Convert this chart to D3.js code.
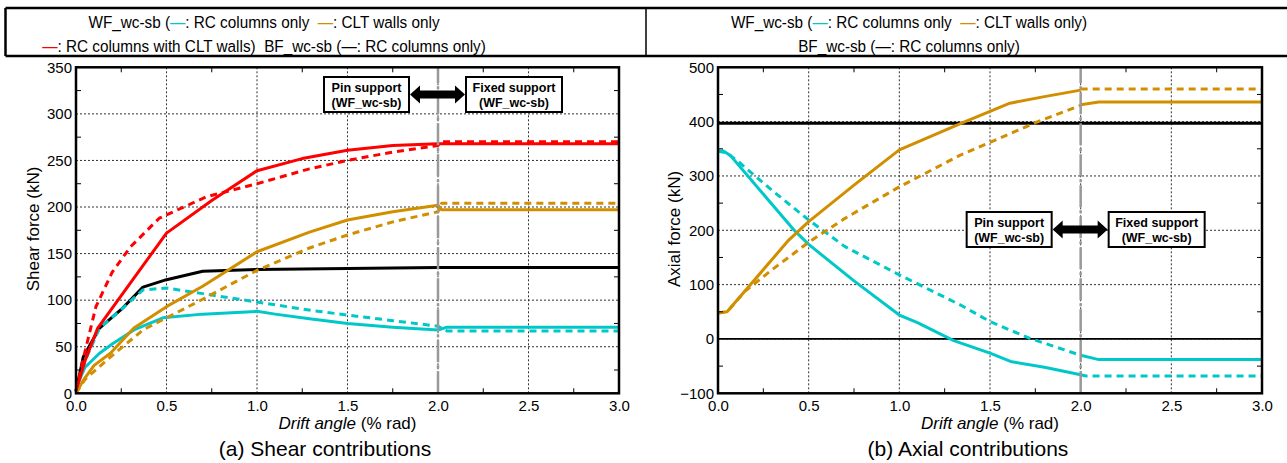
<!DOCTYPE html>
<html>
<head>
<meta charset="utf-8">
<script src="https://cdn.jsdelivr.net/npm/d3@7"></script>
<style>
  body { margin: 0; background: #fff; }
  text { font-family: "Liberation Sans", Arial, sans-serif; fill: #000; }
</style>
</head>
<body>
<div id="chart"></div>
<script>
// ---- data ----
var xTicks = [0, 0.5, 1.0, 1.5, 2.0, 2.5, 3.0];
var shearTicks = [0, 50, 100, 150, 200, 250, 300, 350];
var axialTicks = [-100, 0, 100, 200, 300, 400, 500];

// (a) shear contributions  [drift angle, kN]
var shearRedSolid = [[0,3],[0.05,35],[0.12,70],[0.5,172],[0.75,207],[1.0,239],[1.25,252],[1.5,261],[1.75,266],[2.0,268],[3.0,268]];
var shearRedDashed = [[0,3],[0.05,45],[0.11,93],[0.2,130],[0.3,157],[0.46,188],[0.72,211],[1.0,225],[1.29,241],[1.5,250],[1.75,259],[2.0,266],[2.02,270],[3.0,270]];
var shearBlack = [[0,2],[0.04,39],[0.13,70],[0.25,90],[0.37,114],[0.5,122],[0.7,131],[1.0,133],[1.5,134],[2.0,135],[3.0,135]];
var shearCyanSolid = [[0,2],[0.02,15],[0.05,28],[0.13,43],[0.2,53],[0.32,68],[0.48,81],[0.7,85],[1.0,88],[1.1,85],[1.29,80],[1.5,75],[1.75,71],[2.0,68],[2.05,71],[3.0,71]];
var shearCyanDashed = [[0,2],[0.05,35],[0.13,70],[0.25,90],[0.37,111],[0.5,113],[0.7,107],[1.0,98],[1.3,89],[1.5,84],[1.75,78],[2.0,72],[2.05,67],[3.0,67]];
var shearGoldSolid = [[0,0],[0.04,14],[0.1,30],[0.19,43],[0.32,70],[0.5,93],[0.7,115],[1.0,152],[1.29,173],[1.5,186],[1.75,195],[2.0,202],[2.02,197],[3.0,197]];
var shearGoldDashed = [[0,0],[0.05,15],[0.19,39],[0.37,68],[0.5,81],[0.7,101],[1.0,132],[1.29,156],[1.5,170],[1.75,184],[2.0,195],[2.02,204],[3.0,204]];

// (b) axial contributions, pin part (0-2.0) and fixed part (2.0-3.0)
var axialGoldSolidPin = [[0,48],[0.05,50],[0.39,182],[0.5,216],[0.75,283],[1.0,348],[1.34,397],[1.5,419],[1.61,434],[1.8,446],[2.0,458]];
var axialGoldDashedPin = [[0,48],[0.05,50],[0.15,88],[0.3,128],[0.5,178],[0.7,222],[1.0,280],[1.34,339],[1.5,362],[1.75,398],[2.0,430]];
var axialGoldSolidFixed = [[2.0,431],[2.1,436],[3.0,436]];
var axialGoldDashedFixed = [[2.0,460],[3.0,460]];
var axialCyanSolidPin = [[0,346],[0.03,346],[0.07,337],[0.2,286],[0.42,200],[0.5,174],[0.75,107],[1.0,44],[1.1,30],[1.3,-3],[1.5,-26],[1.62,-42],[1.8,-52],[2.0,-66]];
var axialCyanDashedPin = [[0,346],[0.05,342],[0.11,327],[0.3,273],[0.5,219],[0.7,170],[1.0,118],[1.34,62],[1.5,32],[1.72,1],[2.0,-30]];
var axialCyanSolidFixed = [[2.0,-30],[2.1,-38],[3.0,-38]];
var axialCyanDashedFixed = [[2.0,-66],[2.03,-68],[3.0,-68]];
var axialBlack = [[0,397],[3.0,397]];
var axialZero = [[0,0],[3.0,0]];

var RED = "#ff0000", CYAN = "#00c8c8", GOLD = "#d18f00", BLACK = "#000";

var W = 1287, H = 463;
var svg = d3.select("#chart").append("svg")
  .attr("width", W).attr("height", H);

// ---- legend header ----
svg.append("line").attr("x1", 5.5).attr("x2", W).attr("y1", 8).attr("y2", 8)
  .attr("stroke", "#000").attr("stroke-width", 2.5);
svg.append("line").attr("x1", 5.5).attr("x2", W).attr("y1", 56).attr("y2", 56)
  .attr("stroke", "#000").attr("stroke-width", 2.5);
svg.append("line").attr("x1", 5.5).attr("x2", 5.5).attr("y1", 8).attr("y2", 56)
  .attr("stroke", "#000").attr("stroke-width", 2.5);
svg.append("line").attr("x1", 646).attr("x2", 646).attr("y1", 8).attr("y2", 56)
  .attr("stroke", "#000").attr("stroke-width", 1.5);

// legend text is a little narrower than plain Arial, so squeeze it horizontally
function legendLine(x, y, parts) {
  var t = svg.append("text")
    .attr("transform", "translate(" + x + "," + y + ") scale(0.9,1)")
    .attr("text-anchor", "middle").style("font-size", "17px")
    .attr("xml:space", "preserve");
  parts.forEach(function (p) {
    t.append("tspan").text(p[0]).style("fill", p[1] || "#000");
  });
}
legendLine(264, 27.5, [["WF_wc-sb ("], ["\u2014", CYAN], [": RC columns only  "], ["\u2014", GOLD], [": CLT walls only"]]);
legendLine(264, 52, [["\u2014", RED], [": RC columns with CLT walls)  BF_wc-sb ("], ["\u2014", BLACK], [": RC columns only)"]]);
legendLine(909, 27.5, [["WF_wc-sb ("], ["\u2014", CYAN], [": RC columns only  "], ["\u2014", GOLD], [": CLT walls only)"]]);
legendLine(909, 52, [["BF_wc-sb ("], ["\u2014", BLACK], [": RC columns only)"]]);

// ---- panels ----
function drawPanel(cfg) {
  var x = d3.scaleLinear().domain([0, 3]).range([cfg.left, cfg.right]);
  var y = d3.scaleLinear().domain(cfg.yDomain).range([393.3, 67.3]);
  var g = svg.append("g");

  // dotted grid at major ticks
  g.selectAll(".gx").data(xTicks.slice(1, -1)).enter().append("line")
    .attr("x1", function (d) { return x(d); }).attr("x2", function (d) { return x(d); })
    .attr("y1", y.range()[0]).attr("y2", y.range()[1])
    .attr("stroke", "#333").attr("stroke-width", 1).attr("stroke-dasharray", "2,2");
  g.selectAll(".gy").data(cfg.yTicks.slice(1, -1)).enter().append("line")
    .attr("x1", x(0)).attr("x2", x(3))
    .attr("y1", function (d) { return y(d); }).attr("y2", function (d) { return y(d); })
    .attr("stroke", "#333").attr("stroke-width", 1).attr("stroke-dasharray", "2,2");

  var line = d3.line().x(function (d) { return x(d[0]); }).y(function (d) { return y(d[1]); });
  cfg.series.forEach(function (s) {
    g.append("path").datum(s.data).attr("d", line)
      .attr("fill", "none").attr("stroke", s.color)
      .attr("stroke-width", s.width || 3)
      .attr("stroke-dasharray", s.dash ? "7,5" : null)
      .attr("stroke-linejoin", "round");
  });

  // gray dash-dot line at drift angle 2.0
  g.append("line").attr("x1", x(2)).attr("x2", x(2))
    .attr("y1", y.range()[0]).attr("y2", y.range()[1])
    .attr("stroke", "#999").attr("stroke-width", 2.5)
    .attr("stroke-dasharray", "22,3,3,3");

  // minor ticks, inward on all four sides
  var step = cfg.yTicks[1] - cfg.yTicks[0];
  var xMinor = d3.range(0.25, 3, 0.5);
  var yMinor = d3.range(cfg.yDomain[0] + step / 2, cfg.yDomain[1], step);
  var tk = 5;
  xMinor.forEach(function (v) {
    g.append("line").attr("x1", x(v)).attr("x2", x(v)).attr("y1", y.range()[0]).attr("y2", y.range()[0] - tk).attr("stroke", "#000");
    g.append("line").attr("x1", x(v)).attr("x2", x(v)).attr("y1", y.range()[1]).attr("y2", y.range()[1] + tk).attr("stroke", "#000");
  });
  yMinor.forEach(function (v) {
    g.append("line").attr("x1", x(0)).attr("x2", x(0) + tk).attr("y1", y(v)).attr("y2", y(v)).attr("stroke", "#000");
    g.append("line").attr("x1", x(3)).attr("x2", x(3) - tk).attr("y1", y(v)).attr("y2", y(v)).attr("stroke", "#000");
  });

  // frame
  g.append("rect").attr("x", x(0)).attr("y", y.range()[1])
    .attr("width", x(3) - x(0)).attr("height", y.range()[0] - y.range()[1])
    .attr("fill", "none").attr("stroke", "#000").attr("stroke-width", 2.5);

  // tick labels via d3 axes (lines hidden)
  var xa = g.append("g").attr("transform", "translate(0," + y.range()[0] + ")")
    .call(d3.axisBottom(x).tickValues(xTicks).tickFormat(d3.format(".1f")).tickSize(0).tickPadding(7));
  var ya = g.append("g").attr("transform", "translate(" + x(0) + ",0)")
    .call(d3.axisLeft(y).tickValues(cfg.yTicks).tickSize(0).tickPadding(4));
  [xa, ya].forEach(function (a) {
    a.select(".domain").remove();
    a.selectAll("text").style("font-size", "15px").style("font-family", "Liberation Sans, Arial, sans-serif");
  });

  // axis titles
  var cx = (x(0) + x(3)) / 2;
  var xt = g.append("text").attr("x", cx).attr("y", 429).attr("text-anchor", "middle")
    .style("font-size", "17px");
  xt.append("tspan").text("Drift angle").style("font-style", "italic");
  xt.append("tspan").text(" (% rad)");
  g.append("text").attr("transform", "translate(" + cfg.yTitleX + ",229) rotate(-90)")
    .attr("text-anchor", "middle").style("font-size", "17px").text(cfg.yTitle);
  g.append("text").attr("x", cfg.captionX).attr("y", 456).attr("text-anchor", "middle")
    .style("font-size", "21px").text(cfg.caption);

  // support annotation
  var by = cfg.boxTop, bh = 35;
  function label(tx, ty, str, len) {
    g.append("text").attr("x", tx).attr("y", ty).attr("text-anchor", "middle")
      .attr("textLength", len).attr("lengthAdjust", "spacingAndGlyphs")
      .style("font-weight", "bold").style("font-size", "13px").text(str);
  }
  function box(xl, xr, line1, len1) {
    g.append("rect").attr("x", xl).attr("y", by).attr("width", xr - xl).attr("height", bh)
      .attr("fill", "#fff").attr("stroke", "#000").attr("stroke-width", 2);
    var tx = (xl + xr) / 2;
    label(tx, by + 14.5, line1, len1);
    label(tx, by + 29.5, "(WF_wc-sb)", 70);
  }
  var x2 = x(2);
  box(x2 - 114, x2 - 29, "Pin support", 70);
  box(x2 + 28, x2 + 124, "Fixed support", 83);
  var ay = by + bh / 2, a0 = x2 - 28, a1 = x2 + 27;
  g.append("path")
    .attr("d", "M" + a0 + "," + ay + " L" + (a0 + 10) + "," + (ay - 9) + " L" + (a0 + 10) + "," + (ay - 4) +
      " L" + (a1 - 10) + "," + (ay - 4) + " L" + (a1 - 10) + "," + (ay - 9) + " L" + a1 + "," + ay +
      " L" + (a1 - 10) + "," + (ay + 9) + " L" + (a1 - 10) + "," + (ay + 4) + " L" + (a0 + 10) + "," + (ay + 4) +
      " L" + (a0 + 10) + "," + (ay + 9) + " Z")
    .attr("fill", "#000");
}

drawPanel({
  left: 76, right: 619, yDomain: [0, 350], yTicks: shearTicks,
  yTitle: "Shear force (kN)", yTitleX: 39, caption: "(a) Shear contributions", captionX: 325, boxTop: 77,
  series: [
    { data: shearBlack, color: BLACK },
    { data: shearCyanDashed, color: CYAN, dash: true },
    { data: shearCyanSolid, color: CYAN },
    { data: shearGoldDashed, color: GOLD, dash: true },
    { data: shearGoldSolid, color: GOLD },
    { data: shearRedDashed, color: RED, dash: true },
    { data: shearRedSolid, color: RED }
  ]
});

drawPanel({
  left: 718, right: 1262, yDomain: [-100, 500], yTicks: axialTicks,
  yTitle: "Axial force (kN)", yTitleX: 680, caption: "(b) Axial contributions", captionX: 968, boxTop: 212,
  series: [
    { data: axialZero, color: BLACK, width: 1.8 },
    { data: axialBlack, color: BLACK },
    { data: axialCyanDashedPin, color: CYAN, dash: true },
    { data: axialCyanDashedFixed, color: CYAN, dash: true },
    { data: axialCyanSolidPin, color: CYAN },
    { data: axialCyanSolidFixed, color: CYAN },
    { data: axialGoldDashedPin, color: GOLD, dash: true },
    { data: axialGoldDashedFixed, color: GOLD, dash: true },
    { data: axialGoldSolidPin, color: GOLD },
    { data: axialGoldSolidFixed, color: GOLD }
  ]
});
</script>
</body>
</html>
